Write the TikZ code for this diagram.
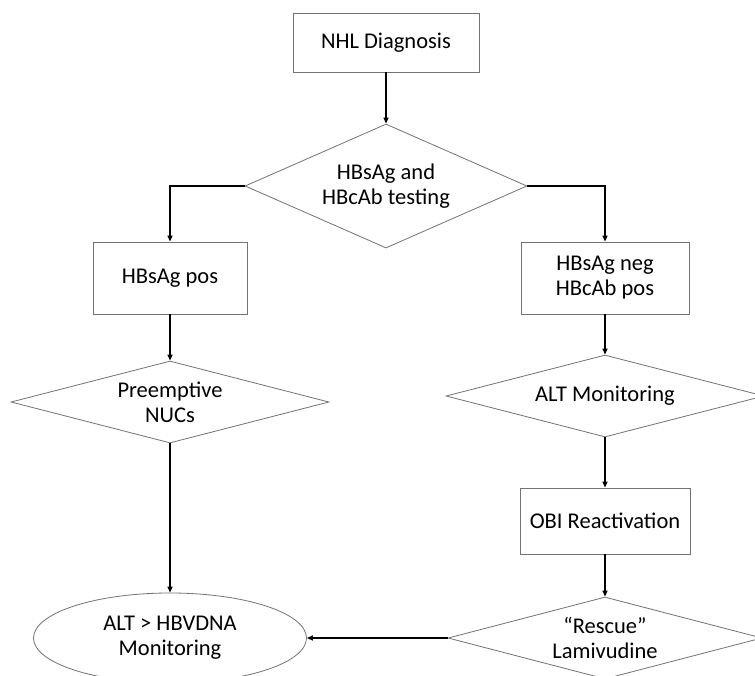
\documentclass[tikz,border=0pt]{standalone}
\usepackage{fontspec}
\setmainfont{Carlito}
\usetikzlibrary{shapes.geometric,arrows.meta}
\begin{document}
\begin{tikzpicture}[x=1pt,y=-1pt,
  box/.style={draw=black!55, line width=0.8pt, fill=white, align=center, inner sep=0pt},
  dia/.style={diamond, draw=black!55, line width=0.8pt, fill=white, align=center, inner sep=0pt},
  ell/.style={ellipse, draw=black!55, line width=0.8pt, fill=white, align=center, inner sep=0pt},
  conn/.style={draw=black, line width=1.3pt, -{Triangle[length=6pt,width=5pt]}},
  font=\fontsize{22.5}{25}\selectfont]
\useasboundingbox (0,0) rectangle (755,675);
\clip (0,0) rectangle (755,675);
\fill[white] (0,0) rectangle (755,675);
\node[box, minimum width=186, minimum height=59] (nhl) at (386,42.5) {NHL Diagnosis};
\node[dia, minimum width=282, minimum height=124, aspect=2.27] (test) at (386,186) {HBsAg and\\HBcAb testing};
\node[box, minimum width=154, minimum height=72] (pos) at (170,278) {HBsAg pos};
\node[dia, minimum width=318, minimum height=82, aspect=3.88] (pre) at (170,402) {Preemptive\\NUCs};
\node[box, minimum width=168, minimum height=72] (neg) at (605,278) {HBsAg neg\\HBcAb pos};
\node[dia, minimum width=318, minimum height=82, aspect=3.88] (alt) at (605,396) {ALT Monitoring};
\node[box, minimum width=170, minimum height=66] (obi) at (605,521) {OBI Reactivation};
\node[dia, minimum width=314, minimum height=82, aspect=3.83] (rescue) at (605,638) {“Rescue”\\Lamivudine};
\node[ell, minimum width=273, minimum height=90] (hbv) at (170,638) {ALT > HBVDNA\\Monitoring};
\draw[conn] (nhl.south) -- (test.north);
\draw[conn] (test.west) -| (pos.north);
\draw[conn] (test.east) -| (neg.north);
\draw[conn] (pos.south) -- (pre.north);
\draw[conn] (pre.south) -- (hbv.north);
\draw[conn] (neg.south) -- (alt.north);
\draw[conn] (alt.south) -- (obi.north);
\draw[conn] (obi.south) -- (rescue.north);
\draw[conn] (rescue.west) -- (hbv.east);
\end{tikzpicture}
\end{document}
